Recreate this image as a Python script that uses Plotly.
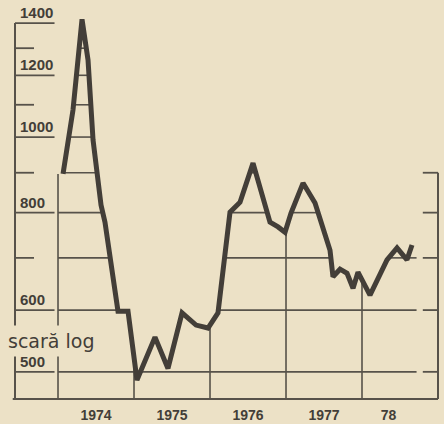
import numpy as np
import plotly.graph_objects as go

# ---- data ----
years = [1974.066, 1974.197, 1974.316, 1974.395, 1974.461, 1974.566, 1974.618, 1974.789,
         1974.921, 1975.039, 1975.276, 1975.447, 1975.632, 1975.816, 1975.974, 1976.105,
         1976.263, 1976.395, 1976.566, 1976.684, 1976.789, 1976.895, 1976.987, 1977.066,
         1977.224, 1977.382, 1977.579, 1977.618, 1977.711, 1977.803, 1977.882, 1977.947,
         1978.105, 1978.329, 1978.461, 1978.592, 1978.658]
values = [897, 1083, 1416, 1255, 991, 818, 778, 598,
          598, 488, 554, 505, 595, 574, 569, 595,
          801, 825, 926, 850, 778, 767, 755, 799,
          873, 823, 716, 662, 677, 669, 640, 671,
          627, 696, 721, 696, 727]

year_labels = ["1974", "1975", "1976", "1977", "78"]
year_label_pos = [1974.5, 1975.5, 1976.5, 1977.5, 1978.35]
year_bounds = [1974, 1975, 1976, 1977, 1978]
major_ticks = [500, 600, 800, 1000, 1200, 1400]
minor_ticks = [700, 900, 1100, 1300]
grid_levels = [500, 600, 700, 800, 900, 1000, 1100, 1200, 1300, 1400]
right_ticks = [500, 600, 700, 800, 900]

PAPER = "#ece1c6"
INK = "#433e38"
GRID = "#57524a"

X0, X1 = 1973.434, 1979.0          # chart frame
YBOT = 461.4                         # bottom axis value
grid_end = years[-1] + 0.06

fig = go.Figure()

shapes = []
def seg(xa, ya, xb, yb, w=1.6, c=GRID):
    shapes.append(dict(type="line", xref="x", yref="y", x0=xa, y0=ya, x1=xb, y1=yb,
                       line=dict(color=c, width=w), layer="below"))

# grid drawn only below the curve
lx = np.log10(values)
xs = np.linspace(year_bounds[0], grid_end, 6000)
curve = np.interp(xs, years, lx)
for lev in grid_levels:
    above = curve >= np.log10(lev)
    i = 0
    n = len(xs)
    while i < n:
        if above[i]:
            j = i
            while j + 1 < n and above[j + 1]:
                j += 1
            seg(xs[i], lev, xs[j], lev)
            i = j + 1
        else:
            i += 1
for xb in year_bounds:
    seg(xb, YBOT, xb, 10 ** np.interp(xb, years, lx))

# axes frame
seg(X0, YBOT, X0, 1400, w=2)
seg(X0 - 0.03, YBOT, X1, YBOT, w=2)
seg(X1, YBOT, X1, right_ticks[-1], w=2)
for v in major_ticks:
    seg(X0, v, X0 + 0.52, v, w=1.8)
for v in minor_ticks:
    seg(X0, v, X0 + 0.25, v, w=1.8)
for v in right_ticks:
    seg(X1 - 0.2, v, X1, v, w=1.8)

fig.add_trace(go.Scatter(x=years, y=values, mode="lines",
                         line=dict(color=INK, width=5), hoverinfo="skip",
                         showlegend=False))

annotations = []
for v in major_ticks:
    annotations.append(dict(x=X0 + 0.04, y=np.log10(v), xref="x", yref="y",
                            text="<b>%d</b>" % v, showarrow=False,
                            xanchor="left", yanchor="bottom",
                            font=dict(family="Liberation Sans, Arial", size=15, color=INK)))
annotations.append(dict(x=1973.908, y=np.log10(547), xref="x", yref="y",
                        text="scară log", showarrow=False, xanchor="center", yanchor="middle",
                        bgcolor=PAPER, borderpad=4,
                        font=dict(family="DejaVu Sans", size=19, color=INK)))

fig.update_layout(
    width=444, height=424,
    margin=dict(l=12, r=3, t=4, b=22),
    paper_bgcolor=PAPER, plot_bgcolor=PAPER,
    shapes=shapes, annotations=annotations,
    xaxis=dict(range=[X0 - 3 / 76, X1 + 3 / 76], showgrid=False, zeroline=False,
               showline=False, tickvals=year_label_pos, automargin=False,
               ticktext=["<b>%s</b>" % t for t in year_labels], ticks="",
               ticklabelstandoff=3,
               tickfont=dict(family="Liberation Sans, Arial", size=14, color=INK)),
    yaxis=dict(type="log", range=[2.6603, 3.1706], showgrid=False, zeroline=False,
               showline=False, showticklabels=False, ticks="", automargin=False),
)

fig.write_html("out.html", config={"displayModeBar": False},
               post_script="document.body.style.margin='0';"
                           "document.body.style.background='%s';" % PAPER)
